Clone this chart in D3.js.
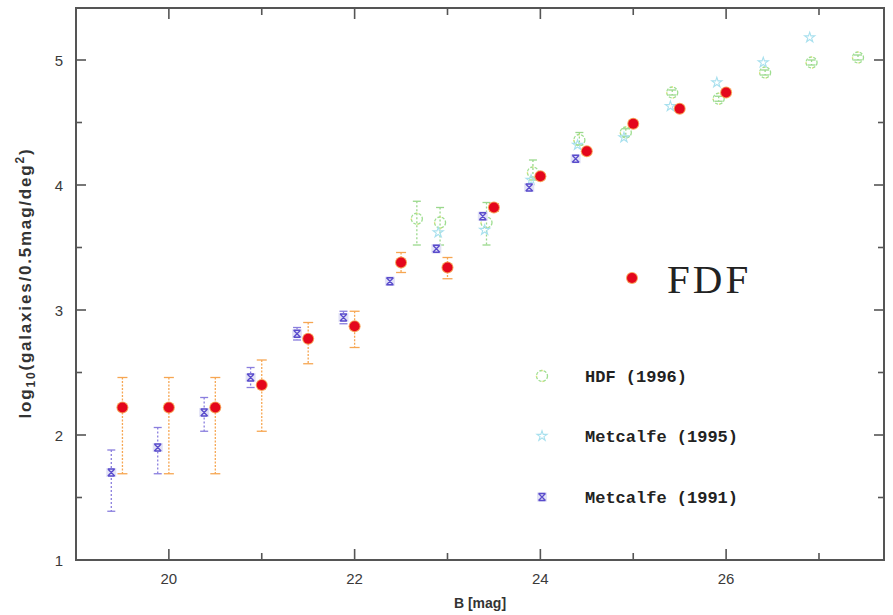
<!DOCTYPE html>
<html>
<head>
<meta charset="utf-8">
<script src="https://cdn.jsdelivr.net/npm/d3@7"></script>
<style>
  body { margin: 0; background: #fff; }
  svg { display: block; }
  .tick-label { font-family: "Liberation Sans", sans-serif; font-size: 15px; fill: #3a3a3a; }
  .legend-text { font-family: "Liberation Mono", monospace; font-weight: bold; font-size: 17px; fill: #222; }
</style>
</head>
<body>
<script>
// FDF number counts (red dots)
var fdfMag = [19.5, 20, 20.5, 21, 21.5, 22, 22.5, 23, 23.5, 24, 24.5, 25, 25.5, 26];
var fdfLog = [2.22, 2.22, 2.22, 2.40, 2.77, 2.87, 3.38, 3.34, 3.82, 4.07, 4.27, 4.49, 4.61, 4.74];
var fdfHi  = [0.24, 0.24, 0.24, 0.20, 0.13, 0.12, 0.08, 0.08, 0.03, 0.02, 0.02, 0.02, 0.02, 0.02];
var fdfLo  = [0.53, 0.53, 0.53, 0.37, 0.20, 0.17, 0.08, 0.09, 0.03, 0.02, 0.02, 0.02, 0.02, 0.02];

// Metcalfe (1991)
var m91Mag = [19.38, 19.88, 20.38, 20.88, 21.38, 21.88, 22.38, 22.88, 23.38, 23.88, 24.38];
var m91Log = [1.70, 1.90, 2.18, 2.46, 2.81, 2.94, 3.23, 3.49, 3.75, 3.98, 4.21];
var m91Hi  = [0.18, 0.16, 0.12, 0.08, 0.05, 0.05, 0.03, 0.03, 0.03, 0.02, 0.02];
var m91Lo  = [0.31, 0.21, 0.15, 0.08, 0.05, 0.05, 0.03, 0.03, 0.03, 0.02, 0.02];

// Metcalfe (1995)
var m95Mag = [22.9, 23.4, 23.9, 24.4, 24.9, 25.4, 25.9, 26.4, 26.9];
var m95Log = [3.62, 3.64, 4.04, 4.32, 4.38, 4.63, 4.82, 4.98, 5.18];

// HDF (1996)
var hdfMag = [22.67, 22.92, 23.42, 23.92, 24.42, 24.92, 25.42, 25.92, 26.42, 26.92, 27.42];
var hdfLog = [3.73, 3.70, 3.70, 4.10, 4.36, 4.42, 4.74, 4.69, 4.90, 4.98, 5.02];
var hdfHi  = [0.14, 0.12, 0.16, 0.10, 0.06, 0.03, 0.02, 0.02, 0.02, 0.02, 0.02];
var hdfLo  = [0.21, 0.18, 0.18, 0.06, 0.04, 0.03, 0.02, 0.02, 0.02, 0.02, 0.02];

var xTicks = [20, 22, 24, 26];
var xMinor = [21, 23, 25, 27];
var yTicks = [1, 2, 3, 4, 5];
var yMinor = [1.5, 2.5, 3.5, 4.5];

var legendNames = ["HDF (1996)", "Metcalfe (1995)", "Metcalfe (1991)"];

var width = 893, height = 615;
var padL = 76, padR = 884, padT = 8, padB = 560;

var svg = d3.select("body").append("svg")
  .attr("width", width)
  .attr("height", height);

var x = d3.scaleLinear().domain([19, 27.7]).range([padL, padR]);
var y = d3.scaleLinear().domain([1, 5.416]).range([padB, padT]);

// frame
svg.append("rect")
  .attr("x", padL).attr("y", padT)
  .attr("width", padR - padL).attr("height", padB - padT)
  .attr("fill", "none")
  .attr("stroke", "#555")
  .attr("stroke-width", 2);

// inward ticks on all four sides
var tk = svg.append("g").attr("stroke", "#555").attr("stroke-width", 1.6);
function xt(vals, len) {
  vals.forEach(function(v) {
    tk.append("line").attr("x1", x(v)).attr("x2", x(v)).attr("y1", padB).attr("y2", padB - len);
    tk.append("line").attr("x1", x(v)).attr("x2", x(v)).attr("y1", padT).attr("y2", padT + len);
  });
}
function yt(vals, len) {
  vals.forEach(function(v) {
    tk.append("line").attr("y1", y(v)).attr("y2", y(v)).attr("x1", padL).attr("x2", padL + len);
    tk.append("line").attr("y1", y(v)).attr("y2", y(v)).attr("x1", padR).attr("x2", padR - len);
  });
}
xt(xTicks, 11); xt(xMinor, 7);
yt(yTicks.filter(function(v) { return v > 1; }), 10); yt(yMinor, 6);

svg.selectAll(".xl").data(xTicks).enter().append("text")
  .attr("class", "tick-label")
  .attr("x", d => x(d)).attr("y", padB + 24)
  .attr("text-anchor", "middle")
  .text(d => d);

svg.selectAll(".yl").data(yTicks).enter().append("text")
  .attr("class", "tick-label")
  .attr("x", padL - 13).attr("y", d => y(d) + 6)
  .attr("text-anchor", "end")
  .text(d => d);

// axis titles
svg.append("text")
  .attr("x", 480).attr("y", 608)
  .attr("text-anchor", "middle")
  .style("font-family", "Liberation Sans, sans-serif")
  .style("font-size", "14px")
  .style("font-weight", "bold")
  .style("fill", "#333")
  .text("B [mag]");

var yl = svg.append("text")
  .attr("transform", "translate(31," + 283 + ") rotate(-90)")
  .attr("text-anchor", "middle")
  .style("font-family", "Liberation Sans, sans-serif")
  .style("font-size", "17px")
  .style("font-weight", "bold")
  .style("letter-spacing", "1.8px")
  .style("fill", "#333");
yl.append("tspan").text("log");
yl.append("tspan").attr("dy", 4).style("font-size", "12px").text("10");
yl.append("tspan").attr("dy", -4).text("(galaxies/0.5mag/deg");
yl.append("tspan").attr("dy", -7).style("font-size", "12px").text("2");
yl.append("tspan").attr("dy", 7).text(")");

// error bars
function errorBars(mags, vals, hi, lo, color, dash, cap) {
  var g = svg.append("g")
    .attr("stroke", color)
    .attr("stroke-width", 1.3)
    .attr("fill", "none");
  mags.forEach(function(m, i) {
    var y1 = y(vals[i] + hi[i]), y2 = y(vals[i] - lo[i]);
    g.append("line").attr("x1", x(m)).attr("x2", x(m)).attr("y1", y1).attr("y2", y2)
      .attr("stroke-dasharray", dash);
    g.append("line").attr("x1", x(m) - cap).attr("x2", x(m) + cap).attr("y1", y1).attr("y2", y1);
    g.append("line").attr("x1", x(m) - cap).attr("x2", x(m) + cap).attr("y1", y2).attr("y2", y2);
  });
}

errorBars(hdfMag, hdfLog, hdfHi, hdfLo, "#9ad88c", "2,2", 4);
errorBars(m91Mag, m91Log, m91Hi, m91Lo, "#8a7ede", "2,2", 4);
errorBars(fdfMag, fdfLog, fdfHi, fdfLo, "#f6a652", "2,1.5", 5);

// marker painters
function hdfMark(g, cx, cy) {
  g.append("circle").attr("cx", cx).attr("cy", cy).attr("r", 5.5)
    .attr("fill", "none").attr("stroke", "#9ede90").attr("stroke-width", 1.3)
    .attr("stroke-dasharray", "3,1.5");
  g.append("circle").attr("cx", cx).attr("cy", cy).attr("r", 5.5)
    .attr("fill", "none").attr("stroke", "#ece070").attr("stroke-width", 1.3)
    .attr("stroke-dasharray", "1,8").attr("stroke-dashoffset", 2);
}
var star = d3.symbol().type(d3.symbolStar).size(32);
function m95Mark(g, cx, cy) {
  g.append("path").attr("d", star())
    .attr("transform", "translate(" + cx + "," + cy + ")")
    .attr("fill", "none").attr("stroke", "#a8e0ee").attr("stroke-width", 1.1);
}
function m91Mark(g, cx, cy) {
  g.append("rect").attr("x", cx - 5).attr("y", cy - 4.5).attr("width", 10).attr("height", 9)
    .attr("fill", "#e2e2f6");
  g.append("path")
    .attr("d", "M" + (cx - 3.5) + "," + (cy - 3.5) + "L" + (cx + 3.5) + "," + (cy + 3.5) +
               "M" + (cx + 3.5) + "," + (cy - 3.5) + "L" + (cx - 3.5) + "," + (cy + 3.5) +
               "M" + (cx - 3.5) + "," + (cy - 3.5) + "L" + (cx + 3.5) + "," + (cy - 3.5) +
               "M" + (cx - 3.5) + "," + (cy + 3.5) + "L" + (cx + 3.5) + "," + (cy + 3.5))
    .attr("stroke", "#5a4ccc").attr("stroke-width", 1.3).attr("fill", "none");
}
function fdfMark(g, cx, cy, r) {
  g.append("circle").attr("cx", cx).attr("cy", cy).attr("r", r + 1)
    .attr("fill", "#f7a15a");
  g.append("circle").attr("cx", cx).attr("cy", cy).attr("r", r)
    .attr("fill", "#e4061c");
}

var marks = svg.append("g");
hdfMag.forEach(function(m, i) { hdfMark(marks, x(m), y(hdfLog[i])); });
m95Mag.forEach(function(m, i) { m95Mark(marks, x(m), y(m95Log[i])); });
m91Mag.forEach(function(m, i) { m91Mark(marks, x(m), y(m91Log[i])); });
fdfMag.forEach(function(m, i) { fdfMark(marks, x(m), y(fdfLog[i]), 5); });

// legend
var lg = svg.append("g");
fdfMark(lg, 632, 278, 5);
lg.append("text")
  .attr("x", 667).attr("y", 293)
  .style("font-family", "Liberation Serif, serif")
  .style("font-size", "41px")
  .style("letter-spacing", "3px")
  .style("fill", "#222")
  .text("FDF");

var painters = [hdfMark, m95Mark, m91Mark];
var legendY = [376, 436, 497];
legendNames.forEach(function(name, i) {
  painters[i](lg, 542, legendY[i]);
  lg.append("text")
    .attr("class", "legend-text")
    .attr("x", 585).attr("y", legendY[i] + 6)
    .text(name);
});
</script>
</body>
</html>
